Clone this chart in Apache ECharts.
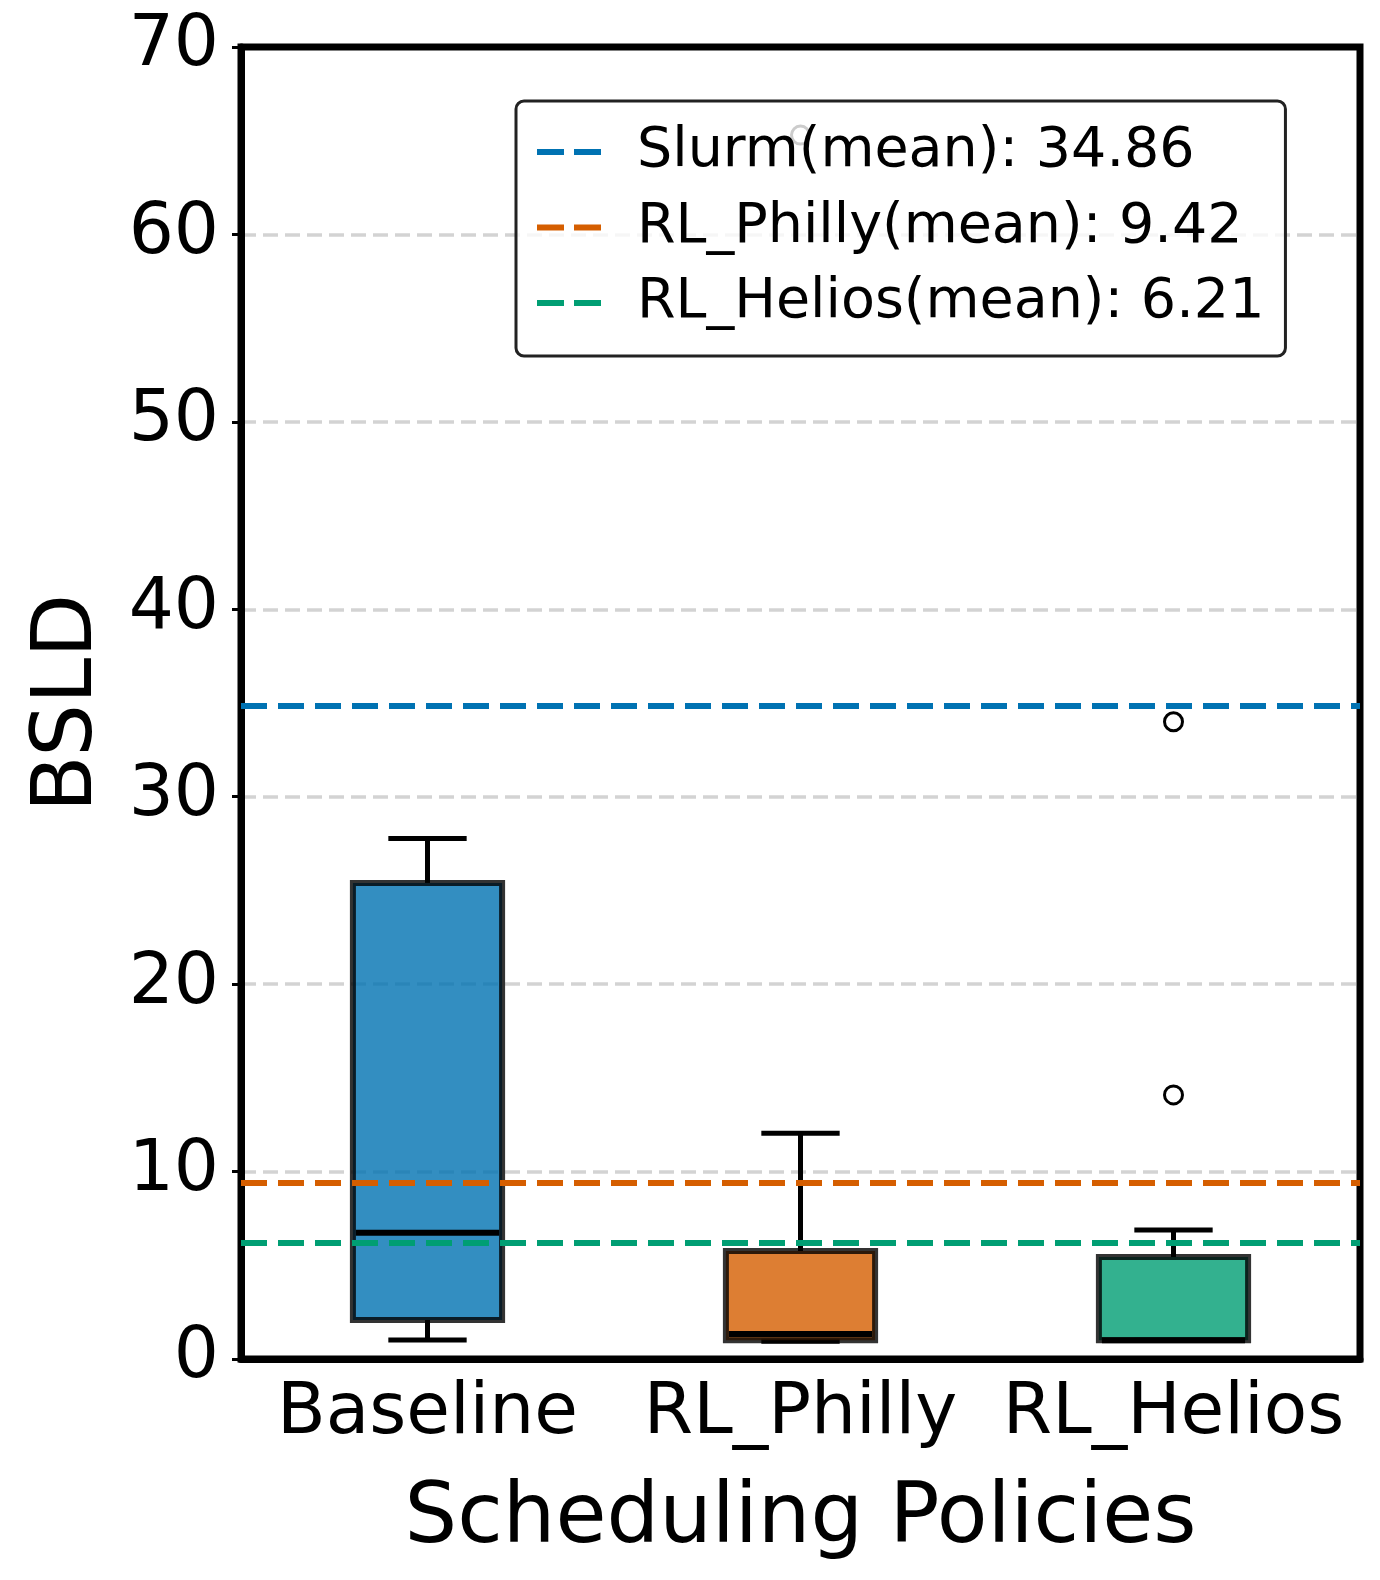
<!DOCTYPE html>
<html>
<head>
<meta charset="utf-8">
<script src="https://cdn.jsdelivr.net/npm/echarts@6/dist/echarts.min.js"></script>
<style>
html,body{margin:0;padding:0;background:#fff;}
#chart{width:1380px;height:1580px;}
</style>
</head>
<body>
<div id="chart"></div>
<script>
// ---- data ----
var categories = ['Baseline', 'RL_Philly', 'RL_Helios'];
// [low whisker, Q1, median, Q3, high whisker]
var baselineBox = [1.01, 2.08, 6.74, 25.4, 27.77];
var phillyBox   = [0.95, 1.0, 1.33, 5.76, 12.04];
var heliosBox   = [1.0, 1.0, 1.0, 5.44, 6.88];
var boxStats = [baselineBox, phillyBox, heliosBox];
// outliers: [category index, value]
var outliers = [[1, 65.3], [2, 34.0], [2, 14.09]];
var meanNames = ['Slurm', 'RL_Philly', 'RL_Helios'];
var meanValues = [34.86, 9.42, 6.21];
var yTicks = [0, 10, 20, 30, 40, 50, 60, 70];

// ---- styles ----
var boxColors = ['#0072B2', '#D55E00', '#009E73'];
var meanColors = ['#0072B2', '#D55E00', '#009E73'];
var FONT = 'DejaVu Sans';

var chart = echarts.init(document.getElementById('chart'), null, {renderer: 'canvas'});

var boxData = boxStats.map(function (s, i) { return [i].concat(s); });

function renderBox(params, api) {
  var x = api.value(0);
  var pLow = api.coord([x, api.value(1)]);
  var pQ1 = api.coord([x, api.value(2)]);
  var pMed = api.coord([x, api.value(3)]);
  var pQ3 = api.coord([x, api.value(4)]);
  var pHigh = api.coord([x, api.value(5)]);
  var catW = api.size([1, 0])[0];
  var bw = catW * 0.40;
  var cw = catW * 0.21;
  var cx = pLow[0];
  var col = boxColors[params.dataIndex];
  var wStyle = {stroke: '#000', lineWidth: 5};
  return {
    type: 'group',
    children: [
      {type: 'line', shape: {x1: cx, y1: pLow[1], x2: cx, y2: pQ1[1]}, style: wStyle},
      {type: 'line', shape: {x1: cx, y1: pQ3[1], x2: cx, y2: pHigh[1]}, style: wStyle},
      {type: 'line', shape: {x1: cx - cw / 2, y1: pLow[1], x2: cx + cw / 2, y2: pLow[1]}, style: wStyle},
      {type: 'line', shape: {x1: cx - cw / 2, y1: pHigh[1], x2: cx + cw / 2, y2: pHigh[1]}, style: wStyle},
      {type: 'rect', shape: {x: cx - bw / 2, y: pQ3[1], width: bw, height: pQ1[1] - pQ3[1]},
        style: {fill: col, opacity: 1, fillOpacity: 0.8, stroke: 'rgba(0,0,0,0.8)', lineWidth: 6}},
      {type: 'line', shape: {x1: cx - bw / 2 + 3, y1: pMed[1], x2: cx + bw / 2 - 3, y2: pMed[1]},
        style: {stroke: '#000', lineWidth: 6}}
    ]
  };
}

var meanSeries = meanNames.map(function (n, i) {
  return {
    name: n + '(mean): ' + meanValues[i].toFixed(2),
    type: 'line',
    data: [],
    color: meanColors[i],
    symbol: 'none',
    z: 5,
    markLine: {
      silent: true,
      symbol: ['none', 'none'],
      label: {show: false},
      lineStyle: {color: meanColors[i], width: 6, type: [26, 11]},
      emphasis: {disabled: true},
      data: [{yAxis: meanValues[i]}]
    }
  };
});

var option = {
  animation: false,
  backgroundColor: '#fff',
  textStyle: {fontFamily: FONT},
  grid: {left: 241, right: 20, top: 47, bottom: 221, show: true, borderColor: '#000', borderWidth: 7, backgroundColor: 'transparent'},
  legend: {
    orient: 'vertical',
    left: 516,
    top: 101,
    padding: [23, 21, 25, 21],
    itemGap: 19.5,
    itemWidth: 64,
    itemHeight: 6,
    backgroundColor: 'rgba(255,255,255,0.8)',
    borderColor: '#222',
    borderWidth: 3,
    borderRadius: 8,
    z: 10,
    selectedMode: false,
    itemStyle: {borderWidth: 0},
    textStyle: {fontSize: 55.5, fontFamily: FONT, color: '#000', lineHeight: 55, padding: [0, 0, 0, 31]},
    data: meanSeries.map(function (s, i) {
      return {name: s.name, icon: 'path://M0,0H27V6H0Z M37,0H64V6H37Z', itemStyle: {color: meanColors[i]}};
    })
  },
  xAxis: {
    type: 'category',
    data: categories,
    boundaryGap: true,
    name: 'Scheduling Policies',
    nameLocation: 'middle',
    nameGap: 120,
    nameTextStyle: {fontSize: 83, fontFamily: FONT, color: '#000'},
    axisLine: {lineStyle: {color: '#000', width: 7}},
    axisTick: {alignWithLabel: true, length: 9, lineStyle: {color: '#000', width: 3}},
    axisLabel: {interval: 0, fontSize: 71, fontFamily: FONT, color: '#000', margin: 20},
    splitLine: {show: false}
  },
  yAxis: {
    type: 'value',
    min: yTicks[0],
    max: yTicks[yTicks.length - 1],
    interval: 10,
    name: 'BSLD',
    nameLocation: 'middle',
    nameGap: 130,
    nameTextStyle: {fontSize: 83, fontFamily: FONT, color: '#000'},
    axisLine: {show: true, lineStyle: {color: '#000', width: 7}},
    axisTick: {show: true, length: 9, lineStyle: {color: '#000', width: 3}},
    axisLabel: {fontSize: 71, fontFamily: FONT, color: '#000', margin: 22},
    splitLine: {show: true, showMinLine: false, showMaxLine: false, lineStyle: {color: '#d3d3d3', width: 3.5, type: [15, 7]}}
  },
  series: [
    {
      type: 'custom',
      name: 'boxes',
      renderItem: renderBox,
      data: boxData,
      encode: {x: 0, y: [1, 2, 3, 4, 5]},
      z: 3,
      silent: true
    },
    {
      type: 'scatter',
      name: 'outliers',
      data: outliers,
      symbol: 'circle',
      symbolSize: 18,
      itemStyle: {color: 'rgba(0,0,0,0)', borderColor: '#000', borderWidth: 3, opacity: 1},
      z: 4,
      silent: true
    }
  ].concat(meanSeries)
};

chart.setOption(option);
</script>
</body>
</html>
